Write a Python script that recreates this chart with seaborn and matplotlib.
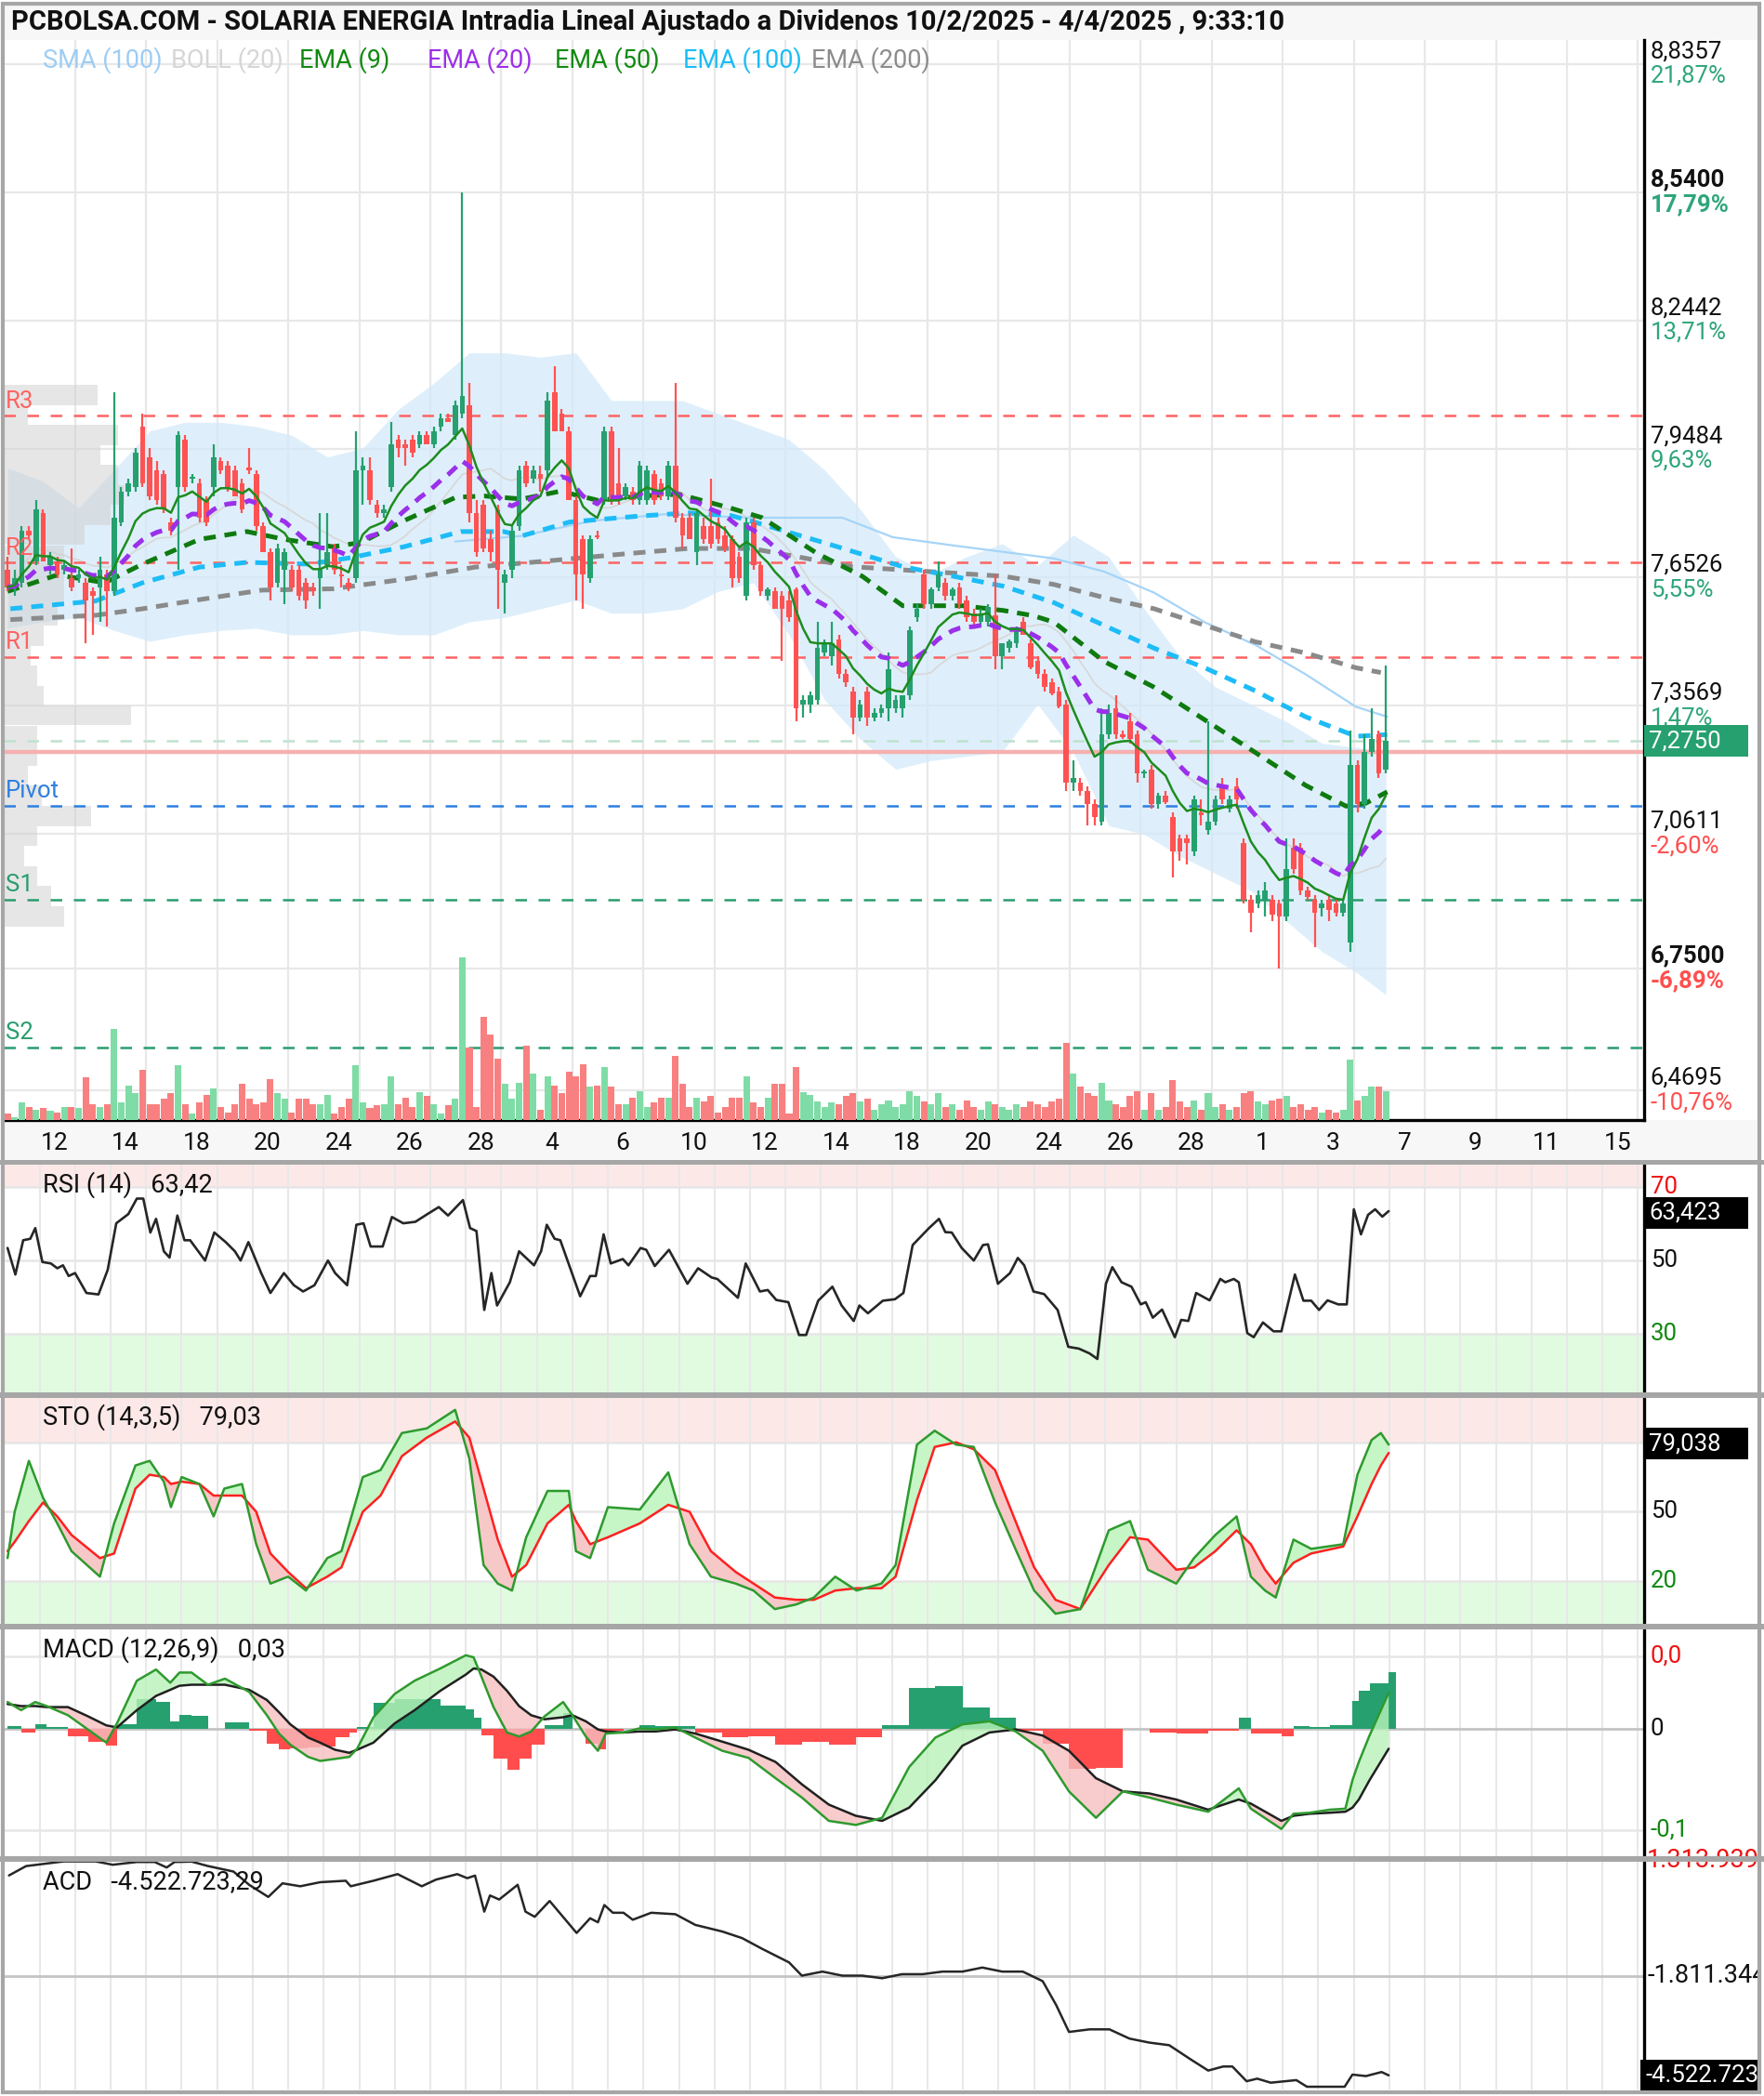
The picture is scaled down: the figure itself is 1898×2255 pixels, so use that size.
import numpy as np
import pandas as pd
import matplotlib
matplotlib.use("Agg")
import matplotlib.pyplot as plt
import matplotlib.transforms as mtransforms
from matplotlib.patches import Rectangle
import seaborn as sns

# ============================ DATA ============================
opens = [7.67,7.63,7.64,7.76,7.69,7.80,7.68,7.69,7.67,7.65,
         7.65,7.64,7.62,7.63,7.66,7.62,7.78,7.85,7.86,8.00,
         7.93,7.90,7.89,7.78,7.86,7.97,7.88,7.87,7.83,7.86,
         7.92,7.91,7.90,7.87,7.905,7.89,7.77,7.71,7.64,7.67,
         7.67,7.67,7.64,7.63,7.65,7.68,7.72,7.66,7.64,7.65,
         7.90,7.90,7.82,7.80,7.86,7.97,7.96,7.97,7.96,7.98,
         7.96,8.00,8.02,7.98,8.03,8.05,7.80,7.82,7.74,7.81,
         7.64,7.67,7.77,7.91,7.88,7.89,7.90,8.08,8.03,7.99,
         7.83,7.74,7.65,7.75,7.83,7.99,7.87,7.84,7.85,7.83,
         7.83,7.89,7.87,7.84,7.91,7.79,7.79,7.71,7.77,7.77,
         7.78,7.75,7.74,7.70,7.61,7.78,7.68,7.61,7.62,7.61,
         7.60,7.625,7.36,7.36,7.37,7.48,7.47,7.51,7.43,7.39,
         7.33,7.39,7.33,7.34,7.35,7.35,7.35,7.38,7.56,7.66,
         7.59,7.63,7.64,7.61,7.63,7.60,7.57,7.55,7.55,7.565,
         7.47,7.49,7.50,7.55,7.50,7.46,7.43,7.41,7.39,7.36,
         7.18,7.18,7.16,7.13,7.09,7.29,7.35,7.29,7.32,7.29,
         7.20,7.21,7.13,7.15,7.10,7.05,7.05,7.02,7.11,7.07,
         7.09,7.17,7.12,7.17,7.04,6.91,6.90,6.91,6.91,6.90,
         6.87,7.03,7.03,6.93,6.91,6.89,6.91,6.90,6.88,6.81,
         7.22,7.13,7.25,7.29,7.21]
highs = [7.70,7.67,7.77,7.77,7.83,7.81,7.71,7.70,7.69,7.72,
         7.67,7.65,7.63,7.70,7.67,8.08,7.86,7.88,7.95,8.03,
         7.95,7.92,7.90,7.79,7.99,7.98,7.89,7.88,7.84,7.96,
         7.93,7.92,7.91,7.88,7.95,7.90,7.78,7.72,7.73,7.72,
         7.68,7.68,7.65,7.64,7.80,7.80,7.73,7.68,7.65,7.99,
         7.93,7.93,7.83,7.82,8.01,7.98,7.97,7.98,7.99,7.99,
         8.00,8.03,8.03,8.06,8.54,8.10,7.83,7.83,7.76,7.82,
         7.67,7.77,7.91,7.92,7.91,7.91,8.08,8.14,8.04,8.00,
         7.84,7.75,7.75,7.76,8.00,8.00,7.95,7.87,7.86,7.92,
         7.91,7.90,7.88,7.92,8.10,7.80,7.80,7.81,7.79,7.88,
         7.79,7.77,7.75,7.71,7.79,7.79,7.69,7.63,7.63,7.62,
         7.62,7.63,7.38,7.39,7.55,7.51,7.55,7.52,7.44,7.40,
         7.37,7.40,7.35,7.36,7.48,7.38,7.38,7.54,7.59,7.67,
         7.63,7.69,7.65,7.63,7.64,7.61,7.58,7.58,7.59,7.66,
         7.50,7.51,7.54,7.56,7.51,7.47,7.44,7.42,7.40,7.37,
         7.23,7.19,7.17,7.14,7.35,7.36,7.38,7.30,7.34,7.30,
         7.21,7.22,7.155,7.16,7.11,7.06,7.06,7.15,7.14,7.32,
         7.15,7.19,7.15,7.19,7.05,6.92,6.93,6.95,6.92,6.91,
         7.05,7.05,7.04,6.94,6.92,6.91,6.92,6.91,6.91,7.30,
         7.23,7.29,7.35,7.30,7.45]
lows = [7.62,7.61,7.63,7.74,7.68,7.69,7.66,7.65,7.66,7.62,
        7.64,7.50,7.52,7.55,7.54,7.61,7.77,7.84,7.85,7.86,
        7.83,7.82,7.80,7.75,7.67,7.85,7.87,7.78,7.77,7.84,
        7.89,7.85,7.84,7.80,7.89,7.76,7.71,7.60,7.63,7.59,
        7.62,7.60,7.58,7.61,7.58,7.67,7.66,7.63,7.62,7.64,
        7.82,7.82,7.79,7.79,7.85,7.93,7.91,7.93,7.95,7.96,
        7.95,7.99,8.01,7.97,8.02,7.78,7.70,7.71,7.69,7.58,
        7.57,7.65,7.76,7.86,7.87,7.85,7.88,7.99,7.99,7.83,
        7.60,7.58,7.64,7.74,7.82,7.82,7.82,7.83,7.82,7.82,
        7.82,7.82,7.83,7.83,7.78,7.72,7.74,7.68,7.73,7.72,
        7.73,7.71,7.63,7.64,7.60,7.67,7.61,7.60,7.58,7.46,
        7.55,7.32,7.33,7.34,7.36,7.47,7.45,7.42,7.40,7.29,
        7.32,7.31,7.32,7.33,7.32,7.34,7.33,7.37,7.55,7.58,
        7.58,7.62,7.60,7.60,7.58,7.55,7.54,7.54,7.54,7.44,
        7.44,7.48,7.49,7.52,7.44,7.42,7.39,7.38,7.35,7.16,
        7.16,7.15,7.08,7.08,7.08,7.28,7.28,7.28,7.27,7.18,
        7.19,7.12,7.12,7.13,6.96,7.00,6.99,7.01,7.08,7.06,
        7.08,7.13,7.11,7.12,6.90,6.835,6.89,6.87,6.86,6.75,
        6.86,6.97,6.92,6.91,6.80,6.87,6.86,6.87,6.87,6.79,
        7.11,7.12,7.24,7.19,7.20]
closes = [7.63,7.65,7.76,7.75,7.81,7.69,7.70,7.66,7.68,7.63,
          7.66,7.60,7.61,7.67,7.62,7.79,7.85,7.87,7.94,7.87,
          7.84,7.83,7.81,7.76,7.98,7.86,7.885,7.79,7.78,7.93,
          7.90,7.86,7.84,7.81,7.90,7.77,7.71,7.63,7.72,7.71,
          7.63,7.61,7.60,7.62,7.67,7.71,7.67,7.655,7.63,7.90,
          7.91,7.83,7.80,7.81,7.96,7.95,7.95,7.94,7.98,7.96,
          7.99,8.02,8.01,8.05,8.07,7.80,7.71,7.72,7.71,7.67,
          7.66,7.76,7.90,7.87,7.90,7.88,8.06,7.99,7.99,7.83,
          7.66,7.66,7.74,7.745,7.99,7.83,7.83,7.86,7.83,7.91,
          7.90,7.83,7.84,7.91,7.79,7.75,7.74,7.80,7.74,7.73,
          7.74,7.72,7.65,7.65,7.78,7.68,7.62,7.625,7.58,7.58,
          7.56,7.35,7.37,7.38,7.49,7.50,7.50,7.43,7.41,7.33,
          7.36,7.33,7.34,7.35,7.44,7.37,7.38,7.53,7.58,7.59,
          7.625,7.66,7.61,7.625,7.59,7.56,7.55,7.57,7.585,7.47,
          7.50,7.505,7.535,7.52,7.445,7.43,7.40,7.385,7.355,7.18,
          7.19,7.16,7.13,7.10,7.29,7.34,7.29,7.285,7.28,7.20,
          7.205,7.13,7.15,7.135,7.02,7.02,7.04,7.14,7.105,7.09,
          7.14,7.14,7.14,7.14,6.91,6.88,6.92,6.93,6.875,6.87,
          6.98,6.98,6.93,6.915,6.88,6.90,6.885,6.88,6.90,7.22,
          7.13,7.25,7.28,7.20,7.275]
volumes = [5,2,13,10,8,9,7,6,10,10, 9,32,12,10,12,68,13,26,20,38,
           12,12,16,20,41,12,5,13,19,24, 10,6,12,27,16,12,13,31,20,16,
           6,16,16,12,12,19,5,10,16,41, 13,9,11,12,33,12,17,10,21,18,
           12,5,11,16,122,54,10,77,64,46, 27,16,28,56,35,8,33,26,20,36,
           33,42,25,26,40,25,12,12,17,22, 10,13,17,17,48,27,10,17,14,18,
           6,10,17,17,33,13,10,17,27,27, 5,40,21,19,14,10,13,
           12,18,20,14,16,8,12,15,10,12, 22,18,14,12,20,10,12,8,15,10,
           8,14,12,10,8,12,10,14,12,10, 14,16,58,35,25,20,18,28,15,12,
           10,18,22,8,20,8,10,30,14,10, 15,8,20,10,12,8,10,20,22,14,
           12,15,16,18,10,12,8,10,6,8, 6,8,45,15,18,25,25,22]

date_labels = ['12','14','18','20','24','26','28','4','6','10','12','14',
               '18','20','24','26','28','1','3','7','9','11','15']
price_ticks = [8.8357, 8.5400, 8.2442, 7.9484, 7.6526, 7.3569, 7.0611, 6.7500, 6.4695]
price_tick_labels = ['8,8357','8,5400','8,2442','7,9484','7,6526','7,3569','7,0611','6,7500','6,4695']
pct_labels = ['21,87%','17,79%','13,71%','9,63%','5,55%','1,47%','-2,60%','-6,89%','-10,76%']
bold_ticks = ['8,5400', '6,7500']

pivot_names = ['R3', 'R2', 'R1', 'Pivot', 'S1', 'S2']
pivot_levels = [8.025, 7.686, 7.468, 7.126, 6.910, 6.568]
last_price = 7.275
ref_price = 7.25

profile_prices = [8.073,8.027,7.981,7.934,7.888,7.842,7.796,7.750,7.703,7.657,7.611,7.565,7.518,
                  7.472,7.426,7.380,7.334,7.287,7.241,7.195,7.149,7.102,7.056,7.010,6.964,6.918,6.871]
profile_volume = [70,18,85,72,85,90,80,60,45,45,45,40,30,20,25,30,95,25,25,18,28,65,25,15,25,35,45]

boll_bar = [0,5,10,15,20,25,30,35,40,45,50,55,60,65,70,75,80,85,90,95,
            100,105,110,115,120,125,130,135,140,145,150,155,160,165,170,175,180,185,190,194]
boll_up = [7.905,7.874,7.813,7.90,7.99,8.01,8.01,8.00,7.98,7.93,7.95,8.04,8.10,8.17,8.17,8.16,8.17,8.06,8.06,8.06,
           8.03,8.00,7.97,7.90,7.81,7.70,7.66,7.70,7.73,7.68,7.75,7.70,7.58,7.47,7.40,7.36,7.32,7.27,7.26,7.25]
boll_lo = [7.535,7.55,7.56,7.53,7.505,7.52,7.53,7.535,7.52,7.52,7.53,7.52,7.52,7.55,7.56,7.58,7.60,7.57,7.57,7.58,
           7.62,7.64,7.52,7.37,7.28,7.21,7.23,7.24,7.25,7.36,7.25,7.08,7.06,7.01,6.97,6.93,6.86,6.79,6.74,6.69]

ema50_bar = [0,7,13.7,19,27,33.7,39,45.8,49.8,55.8,63.1,67.1,72.4,77.8,83.1,89.1,94.5,101.8,106.2,114,
             120.3,126,130.2,134.5,140.2,144.4,147.3,154.3,161.4,168.5,175.6,182.7,188.4,191.2,194.2]
ema50_val = [7.62,7.658,7.64,7.683,7.74,7.758,7.74,7.723,7.733,7.783,7.837,7.84,7.833,7.851,7.83,7.84,7.844,7.812,7.79,7.707,
             7.655,7.587,7.587,7.587,7.576,7.564,7.549,7.459,7.399,7.324,7.249,7.173,7.125,7.132,7.158]
ema100_bar = [0.4,12.4,19,27,33.7,42.4,48.4,55.8,63.8,69.8,72.4,79.1,89.1,95.8,101.8,104.7,115.4,126,133.1,140.2,
              147.3,154.3,161.4,168.5,175.6,182.7,189.8,194.2]
ema100_val = [7.58,7.598,7.64,7.676,7.687,7.683,7.698,7.723,7.758,7.758,7.748,7.78,7.794,7.801,7.795,7.782,7.73,7.677,7.655,7.632,
              7.594,7.542,7.489,7.444,7.391,7.331,7.286,7.29]
ema200_bar = [0.4,12.4,19,27,35.8,45.8,55.8,65.8,75.8,85.8,95.8,104.7,118.9,129.5,140.2,147.3,154.3,161.4,168.5,175.6,
              182.7,189.8,193.3]
ema200_val = [7.555,7.565,7.58,7.601,7.623,7.626,7.648,7.676,7.69,7.705,7.719,7.719,7.677,7.666,7.655,7.636,7.606,7.58,7.542,7.504,
              7.478,7.444,7.433]
sma100_bar = [63,72.4,82.4,92.5,104.7,117.5,124.6,133.1,147.3,154.3,161.4,168.5,175.6,182.7,189.8,194.2]
sma100_val = [7.735,7.748,7.783,7.798,7.79,7.79,7.745,7.726,7.696,7.666,7.617,7.549,7.497,7.429,7.354,7.331]

rsi_bar = [0,1.1,2.2,3.2,3.9,4.9,6.1,7.0,7.8,8.6,9.5,11.1,12.8,14.1,15.3,17.0,18.2,19.1,20.1,20.9,
           22.0,22.8,23.9,24.9,25.7,27.8,29.1,30.7,32.0,32.8,33.9,35.7,37.0,38.9,40.3,41.6,43.2,45.1,46.1,47.8,
           49.1,50.1,51.1,52.8,54.1,55.7,57.4,59.1,60.7,62.0,64.1,65.1,66.0,67.1,68.1,68.9,70.7,72.0,74.1,75.1,
           75.9,77.0,77.8,80.6,82.0,82.8,83.9,84.9,86.6,87.4,89.1,89.9,91.1,93.1,95.7,97.2,99.1,99.9,102.8,103.9,
           105.9,107.0,108.2,109.9,111.4,112.4,114.1,116.1,117.4,119.1,119.9,121.1,123.2,124.9,126.1,127.4,129.7,131.1,132.0,132.9,
           134.3,136.0,137.3,138.0,139.4,141.1,142.2,143.1,144.4,145.9,147.8,149.3,150.8,152.3,153.4,154.6,155.5,156.8,158.2,159.5,
           160.2,161.2,162.5,164.3,165.2,166.2,167.3,169.2,170.7,171.4,172.6,173.3,174.5,175.4,176.7,178.2,179.3,181.2,182.4,183.5,
           184.6,185.8,187.3,188.5,189.5,190.5,191.5,192.5,193.5,194.4]
rsi_val = [53.4,46.2,55.5,55.9,58.8,49.6,49.2,47.9,48.7,45.8,46.6,41.2,40.8,47.5,60.1,62.6,66.8,66.8,57.6,61.3,
           52.5,50.8,62.2,55.5,55.5,50.0,57.6,55.0,52.5,50.0,55.0,46.6,41.2,46.6,43.3,41.6,43.3,50.0,46.6,43.3,
           59.7,60.1,53.8,53.8,61.8,60.1,60.5,62.6,64.5,62.2,66.4,58.8,58.0,36.6,46.6,37.8,44.1,52.5,48.7,52.5,
           59.7,55.9,55.5,40.3,45.8,45.8,57.1,49.2,50.4,48.7,53.4,52.9,48.5,52.9,43.7,47.9,45.4,45.0,39.9,49.2,
           41.6,42.0,39.3,38.7,29.8,29.8,39.1,42.9,37.8,33.6,37.8,35.7,39.1,39.5,41.2,54.2,58.8,61.3,57.7,57.6,
           53.4,50.0,54.2,54.4,43.7,46.6,50.7,48.7,41.6,40.9,36.6,26.6,26.1,24.8,23.3,43.7,48.2,44.1,42.9,38.1,
           38.7,34.5,36.7,29.2,33.9,33.6,41.2,39.2,45.0,44.1,45.0,44.1,30.3,29.2,33.2,30.8,30.8,46.2,39.1,39.1,
           36.6,39.2,38.1,38.1,63.9,57.1,62.4,63.9,61.9,63.4]

sto_bar = [0,1,3,5,7,9,13,15,18,20,22,23,24.5,27,29,30.5,33,35,37,39.5,42,45,47,50,52.5,55.5,59,63,65,67,
           69,71,73,76,79,80,82,84.5,89,93,96,99,102.5,105,108,111,113.5,116.5,119.5,123,125,128,130.5,133.5,136,
           139,142,144.5,147.5,151,155,158,160.5,164.5,167,170,173,175,177,178.5,181,183.5,188,190,192,193.3,194.4]
sto_k = [30,50,72,56,45,33,22,45,70,72,63,52,65,62,48,60,62,36,19,22,16,30,33,65,68,84,86,94,73,27,
         19,16,39,59,59,33,30,52,51,67,36,22,19,16,8,10,13,22,16,19,27,79,85,79,78,
         54,33,16,6,8,42,46,25,19,30,40,48,22,16,13,38,34,36,66,81,84,79]
sto_d = [33,37,46,54,48,40,30,32,60,66,65,62,63,62,57,57,57,50,32,24,17,22,26,50,57,74,82,89,82,60,
         38,22,27,45,53,46,36,39,45,53,50,33,24,19,13,12,12,16,17,17,22,55,78,80,77,
         68,45,26,12,8,27,39,38,25,26,33,42,36,25,19,28,32,35,48,62,70,75.4]

macd_bar = [0,1.9,3.9,5.5,8.5,11.3,13.9,15.4,18.2,20.9,22.9,24.2,25.9,28.2,30.6,34.0,36.5,38.2,39.8,42.3,
            44.0,46.1,48.1,49.2,51.5,54.5,57.3,60.9,64.5,65.6,66.7,68.4,70.3,72.0,73.7,75.6,78.2,79.5,81.4,83.1,
            84.2,86.7,88.9,91.2,94.0,96.8,100.6,104.3,108.1,111.8,115.6,119.4,123.1,126.9,130.6,134.4,138.2,141.9,145.7,149.4,
            153.2,157.0,160.7,164.5,169.0,173.3,175.0,179.3,181.0,183.3,186.1,188.3,189.3,190.2,191.7,194.4]
macd_val = [0.026,0.018,0.026,0.022,0.013,-0.001,-0.014,0.005,0.047,0.058,0.045,0.055,0.055,0.043,0.049,0.036,0.013,-0.005,-0.016,-0.028,
            -0.032,-0.030,-0.028,-0.020,0.011,0.034,0.047,0.059,0.072,0.070,0.051,0.021,-0.004,-0.008,-0.003,0.012,0.026,0.013,-0.008,-0.022,
            -0.005,-0.004,0.000,-0.001,0.001,-0.009,-0.022,-0.029,-0.049,-0.068,-0.091,-0.095,-0.088,-0.038,-0.009,0.004,0.007,-0.003,-0.022,-0.062,
            -0.088,-0.062,-0.068,-0.075,-0.082,-0.059,-0.079,-0.099,-0.084,-0.083,-0.080,-0.079,-0.051,-0.033,-0.007,0.035]
macd_sig = [0.024,0.022,0.022,0.021,0.021,0.012,0.003,0.001,0.018,0.032,0.038,0.042,0.043,0.043,0.043,0.038,0.028,0.016,0.004,-0.009,
            -0.014,-0.021,-0.024,-0.021,-0.014,0.005,0.018,0.037,0.053,0.059,0.058,0.051,0.037,0.022,0.013,0.009,0.011,0.013,0.007,-0.001,
            -0.003,-0.004,-0.003,-0.003,-0.001,-0.005,-0.013,-0.021,-0.033,-0.055,-0.075,-0.086,-0.091,-0.078,-0.051,-0.017,-0.004,-0.001,-0.007,-0.022,
            -0.049,-0.062,-0.064,-0.070,-0.080,-0.070,-0.074,-0.091,-0.086,-0.084,-0.083,-0.082,-0.078,-0.070,-0.051,-0.020]

acd_bar = [0.2,2.6,7.9,12.4,14.8,18.2,20.7,22.4,23.5,25.9,28.2,31.8,34.0,36.7,38.7,41.2,44.0,47.6,48.3,51.5,
           54.9,58.3,60.3,63.3,64.7,65.8,67.1,67.9,69.2,71.8,72.9,74.2,76.3,80.1,82.0,83.1,84.0,85.2,86.7,88.0,
           90.6,94.0,96.8,100.6,103.4,106.2,110.0,111.8,114.7,117.5,120.3,123.1,125.9,128.8,131.6,134.4,137.2,140.0,142.9,145.7,
           147.6,149.4,152.3,155.1,157.9,160.7,163.5,166.4,169.0,171.1,172.4,174.4,175.9,177.8,181.4,182.9,188.2,189.3,191.2,193.4,194.4]
acd_mill = [0.914,1.168,1.296,1.296,1.205,1.28,1.28,1.13,1.28,1.29,1.17,1.02,0.66,0.33,0.70,0.62,0.73,0.77,0.62,0.77,
            0.95,0.62,0.80,0.95,0.84,0.91,-0.07,0.37,0.26,0.66,-0.07,-0.21,0.22,-0.65,-0.25,-0.36,0.11,-0.10,-0.10,-0.29,
            -0.10,-0.14,-0.43,-0.61,-0.79,-1.08,-1.45,-1.81,-1.70,-1.81,-1.81,-1.88,-1.77,-1.77,-1.70,-1.70,-1.59,-1.70,-1.70,-1.96,
            -2.61,-3.34,-3.27,-3.27,-3.52,-3.63,-3.70,-4.07,-4.39,-4.28,-4.28,-4.68,-4.61,-4.72,-4.65,-4.83,-4.83,-4.50,-4.54,-4.43,-4.52]

# ============================ STYLE ============================
sns.set_theme(style="white")
plt.rcParams['font.family'] = ['Roboto', 'DejaVu Sans']

GREEN = '#26a06f'
RED = '#ff5252'
FS = 18.5

FW, FH = 1320.0, 1568.0
def fx(x):
    return x / FW
def fy(y):
    return 1.0 - y / FH

fig = plt.figure(figsize=(18.98, 22.55), dpi=100)
fig.patch.set_facecolor('white')

XL = (-0.5, 230.3)
PL, PR = 3, 1230
BOX_X1 = 1.0 + 78.0 / (PR - PL)

def panel(top, bottom, z=1, face='white'):
    a = fig.add_axes([fx(PL), fy(bottom), fx(PR) - fx(PL), fy(top) - fy(bottom)], zorder=z)
    a.set_xlim(*XL)
    a.set_xticks([]); a.set_yticks([])
    a.set_facecolor(face)
    for s in a.spines.values():
        s.set_visible(False)
    return a

def blend(a):
    return mtransforms.blended_transform_factory(a.transAxes, a.transData)

def value_box(a, yval, half, text, fc, x0=1.0, x1=BOX_X1):
    t = blend(a)
    a.add_patch(Rectangle((x0, yval - half), x1 - x0, 2 * half, transform=t, facecolor=fc,
                          edgecolor='none', clip_on=False, zorder=10))
    a.text(x0 + 0.003, yval, text, transform=t, ha='left', va='center', fontsize=FS, color='white',
           clip_on=False, zorder=11)

# background bars (title bar, date bar)
fig.add_artist(Rectangle((fx(3), fy(30)), fx(1316) - fx(3), fy(3) - fy(30), transform=fig.transFigure,
                         facecolor='#f7f7f7', edgecolor='none', zorder=-5))
fig.add_artist(Rectangle((fx(3), fy(868)), fx(1316) - fx(3), fy(838) - fy(868), transform=fig.transFigure,
                         facecolor='#f7f7f7', edgecolor='none', zorder=-5))

n = len(closes)
bars = np.arange(n)
o = np.array(opens); h = np.array(highs); l = np.array(lows); c = np.array(closes)
up = c >= o

# ---------------- MAIN PANEL ----------------
YL = (6.401, 8.891)
ax_bg = panel(30, 838, z=0)
ax_bg.set_ylim(*YL)
ax_prof = panel(30, 838, z=0.5, face='none')
ax_prof.set_ylim(*YL); ax_prof.set_xlim(0, PR - PL)
ax = panel(30, 838, z=1, face='none')
ax.set_ylim(*YL)
ax_vol = panel(30, 838, z=2, face='none')
ax_vol.set_ylim(0, max(volumes) / 0.151)

# grid
for gx in np.arange(9.5, 231, 10):
    ax_bg.axvline(gx, color='#e8e8e8', lw=1.6, zorder=0)
for gy in price_ticks:
    ax_bg.axhline(gy, color='#e8e8e8', lw=1.6, zorder=0)

# bollinger band (under the volume profile)
ax_bg.fill_between(boll_bar, boll_up, boll_lo, color='#d3eafa', alpha=0.75, lw=0, zorder=1)
boll_mid = pd.Series(closes).rolling(20, min_periods=1).mean()
ax_bg.plot(bars, boll_mid, color='#d8d8d8', lw=1.3, zorder=2)

# volume profile
ax_prof.barh(profile_prices, profile_volume, height=0.046, left=0, color='#cfcfcf', alpha=0.5,
             edgecolor='none', zorder=1)

# pivots
piv_colors = ['#ff6262', '#ff6262', '#ff6262', '#2d7fe0', '#2a9d6f', '#2a9d6f']
for name, lev, col in zip(pivot_names, pivot_levels, piv_colors):
    ax.axhline(lev, color=col, lw=1.8, ls=(0, (5, 5)), zorder=2)
    ax.text(-0.3, lev + 0.008, name, color=col, fontsize=FS, va='bottom', ha='left', zorder=6)

ax.axhline(ref_price, color='#f6b0b0', lw=3.2, zorder=2)
ax.axhline(last_price, color='#bfe2cf', lw=1.8, ls=(0, (5, 5)), zorder=2)

# long averages
ax.plot(sma100_bar, sma100_val, color='#a6d4f7', lw=1.6, zorder=3)
ax.plot(ema200_bar, ema200_val, color='#8a8a8a', lw=3.6, ls=(0, (2.6, 1.9)), zorder=3)
ax.plot(ema100_bar, ema100_val, color='#1dbcf7', lw=3.6, ls=(0, (2.6, 1.9)), zorder=3)
ax.plot(ema50_bar, ema50_val, color='#0f7a0f', lw=3.6, ls=(0, (2.6, 1.9)), zorder=3)

# candles
ax.vlines(bars, l, h, colors=np.where(up, GREEN, RED), lw=1.6, zorder=4)
body_lo = np.minimum(o, c)
body_h = np.maximum(np.abs(c - o), 0.004)
ax.bar(bars, body_h, bottom=body_lo, width=0.74, color=np.where(up, GREEN, RED), edgecolor='none', zorder=4)

# short EMAs (computed from the closes)
ema9 = pd.Series(closes).ewm(span=9, adjust=False).mean()
ema20 = pd.Series(closes).ewm(span=20, adjust=False).mean()
ax.plot(bars, ema20, color='#9b30ea', lw=3.6, ls=(0, (2.6, 1.9)), zorder=5)
sns.lineplot(x=bars, y=ema9, ax=ax, color='#1e8c1e', linewidth=1.8, zorder=5)
ax.set_xlim(*XL); ax.set_ylim(*YL)
ax.set_xlabel(''); ax.set_ylabel('')

# volume
ax_vol.bar(bars, volumes, width=0.92, color=np.where(up, '#7fdca6', '#f88080'), edgecolor='none', zorder=1)

# spines of main
ax.spines['right'].set_visible(True); ax.spines['right'].set_color('black'); ax.spines['right'].set_linewidth(2.4)
ax.spines['bottom'].set_visible(True); ax.spines['bottom'].set_color('black'); ax.spines['bottom'].set_linewidth(2.4)

# right price labels
tb = blend(ax)
for val, lab, pct in zip(price_ticks, price_tick_labels, pct_labels):
    wt = 'bold' if lab in bold_ticks else 'normal'
    pcol = '#2fa57a' if not pct.startswith('-') else '#ff4f4f'
    ax.text(1.004, val + 0.004, lab, transform=tb, ha='left', va='bottom', fontsize=FS, color='#111111',
            weight=wt, clip_on=False)
    ax.text(1.004, val - 0.002, pct, transform=tb, ha='left', va='top', fontsize=FS, color=pcol,
            weight=wt, clip_on=False)
value_box(ax, last_price, 0.036, '7,2750', GREEN)

# date labels
for k, lab in enumerate(date_labels):
    ax.text(6.6 + 10 * k, -(855 - 838) / 808.0, lab,
            transform=mtransforms.blended_transform_factory(ax.transData, ax.transAxes),
            ha='center', va='center', fontsize=19, color='#111111', clip_on=False)

# title and legend
fig.text(fx(8), fy(17), 'PCBOLSA.COM - SOLARIA ENERGIA Intradia Lineal Ajustado a Dividenos 10/2/2025 - 4/4/2025 , 9:33:10',
         fontsize=21, weight='bold', va='center', ha='left', color='#111111')
legend_items = [('SMA (100)', '#9dcdf5', 32), ('BOLL (20)', '#d6d6d6', 128), ('EMA (9)', '#118a11', 224),
                ('EMA (20)', '#9b30e8', 320), ('EMA (50)', '#118a11', 415), ('EMA (100)', '#19bdf5', 511),
                ('EMA (200)', '#8c8c8c', 607)]
for txt, col, xpos in legend_items:
    fig.text(fx(xpos), fy(45), txt, color=col, fontsize=19.5, va='center', ha='left')

# ---------------- RSI ----------------
ax_rsi = panel(871, 1042)
ax_rsi.set_ylim(14.1, 76.1)
ax_rsi.axhspan(70, 80, color='#fde8e8', lw=0, zorder=0)
ax_rsi.axhspan(10, 30, color='#e1fbe1', lw=0, zorder=0)
for gx in np.arange(4.5, 231, 5):
    ax_rsi.axvline(gx, color='#e8e8e8', lw=1.5, zorder=0.5)
for gy in [70, 50, 30]:
    ax_rsi.axhline(gy, color='#e6e6e6', lw=1.8, zorder=0.5)
sns.lineplot(x=rsi_bar, y=rsi_val, ax=ax_rsi, color='#262626', linewidth=1.9, zorder=3)
ax_rsi.set_xlim(*XL); ax_rsi.set_ylim(14.1, 76.1)
ax_rsi.set_xlabel(''); ax_rsi.set_ylabel('')
tr = blend(ax_rsi)
ax_rsi.text(1.004, 70, '70', transform=tr, color='#ee1111', fontsize=FS, va='center', clip_on=False)
ax_rsi.text(1.004, 50, '50', transform=tr, color='#111111', fontsize=FS, va='center', clip_on=False)
ax_rsi.text(1.004, 30, '30', transform=tr, color='#118811', fontsize=FS, va='center', clip_on=False)
value_box(ax_rsi, 63.0, 4.3, '63,423', 'black')
fig.text(fx(32), fy(886), 'RSI (14)   63,42', fontsize=19.5, va='center', color='#111111')

# ---------------- STO ----------------
ax_sto = panel(1045, 1215)
ax_sto.set_ylim(1.5, 99.6)
ax_sto.axhspan(80, 100, color='#fde8e8', lw=0, zorder=0)
ax_sto.axhspan(0, 20, color='#e1fbe1', lw=0, zorder=0)
for gx in np.arange(4.5, 231, 5):
    ax_sto.axvline(gx, color='#e8e8e8', lw=1.5, zorder=0.5)
for gy in [80, 50, 20]:
    ax_sto.axhline(gy, color='#e6e6e6', lw=1.8, zorder=0.5)
kk = np.array(sto_k, float); dd = np.array(sto_d, float); sb = np.array(sto_bar, float)
ax_sto.fill_between(sb, kk, dd, where=kk >= dd, interpolate=True, color='#c6f5c6', lw=0, zorder=1)
ax_sto.fill_between(sb, kk, dd, where=kk < dd, interpolate=True, color='#f7c8c8', lw=0, zorder=1)
sns.lineplot(x=sto_bar, y=sto_d, ax=ax_sto, color='#ff2020', linewidth=1.8, zorder=3)
sns.lineplot(x=sto_bar, y=sto_k, ax=ax_sto, color='#2e9a2e', linewidth=1.8, zorder=4)
ax_sto.set_xlim(*XL); ax_sto.set_ylim(1.5, 99.6)
ax_sto.set_xlabel(''); ax_sto.set_ylabel('')
ts = blend(ax_sto)
ax_sto.text(1.004, 50, '50', transform=ts, color='#111111', fontsize=FS, va='center', clip_on=False)
ax_sto.text(1.004, 20, '20', transform=ts, color='#118811', fontsize=FS, va='center', clip_on=False)
value_box(ax_sto, 79.4, 6.9, '79,038', 'black')
fig.text(fx(32), fy(1060), 'STO (14,3,5)   79,03', fontsize=19.5, va='center', color='#111111')

# ---------------- MACD ----------------
MY = (-0.1263, 0.0974)
ax_m = panel(1219, 1389)
ax_m.set_ylim(*MY)
for gx in np.arange(4.5, 231, 5):
    ax_m.axvline(gx, color='#e8e8e8', lw=1.5, zorder=0.5)
ax_m.axhline(0.0714, color='#e6e6e6', lw=1.8, zorder=0.5)
ax_m.axhline(-0.1, color='#e6e6e6', lw=1.8, zorder=0.5)
ax_m.axhline(0, color='#c4c4c4', lw=2.0, zorder=0.6)
mb = np.array(macd_bar, float); mv = np.array(macd_val); ms = np.array(macd_sig)
hist = mv - ms
widths = np.append(np.diff(mb), 1.0)
ax_m.bar(mb, hist, width=widths, align='edge', color=np.where(hist >= 0, GREEN, '#ff4d4d'), edgecolor='none', zorder=1)
ax_m.fill_between(mb, mv, ms, where=mv >= ms, interpolate=True, color='#b9f2b9', alpha=0.8, lw=0, zorder=2)
ax_m.fill_between(mb, mv, ms, where=mv < ms, interpolate=True, color='#f7c0c0', alpha=0.8, lw=0, zorder=2)
sns.lineplot(x=macd_bar, y=macd_sig, ax=ax_m, color='#202020', linewidth=1.8, zorder=3)
sns.lineplot(x=macd_bar, y=macd_val, ax=ax_m, color='#2e9a2e', linewidth=1.8, zorder=4)
ax_m.set_xlim(*XL); ax_m.set_ylim(*MY)
ax_m.set_xlabel(''); ax_m.set_ylabel('')
tm = blend(ax_m)
ax_m.text(1.004, 0.0714, '0,0', transform=tm, color='#ee1111', fontsize=FS, va='center', clip_on=False)
ax_m.text(1.004, 0.0, '0', transform=tm, color='#111111', fontsize=FS, va='center', clip_on=False)
ax_m.text(1.004, -0.1, '-0,1', transform=tm, color='#118811', fontsize=FS, va='center', clip_on=False)
fig.text(fx(32), fy(1234), 'MACD (12,26,9)   0,03', fontsize=19.5, va='center', color='#111111')

# ---------------- ACD ----------------
AY = (-4.900, 1.3139)
ax_a = panel(1392, 1563)
ax_a.set_ylim(*AY)
for gx in np.arange(4.5, 231, 5):
    ax_a.axvline(gx, color='#e8e8e8', lw=1.5, zorder=0.5)
ax_a.axhline(-1.811344, color='#c4c4c4', lw=2.0, zorder=0.6)
sns.lineplot(x=acd_bar, y=acd_mill, ax=ax_a, color='#262626', linewidth=1.8, zorder=3)
ax_a.set_xlim(*XL); ax_a.set_ylim(*AY)
ax_a.set_xlabel(''); ax_a.set_ylabel('')
ta = blend(ax_a)
ax_a.text(1.002, 1.3139, '1.313.939', transform=ta, color='#ee1111', fontsize=19.5, va='center', clip_on=False)
ax_a.text(1.002, -1.811344, '-1.811.344', transform=ta, color='#111111', fontsize=19.5, va='center', clip_on=False)
value_box(ax_a, -4.522723, 0.43, '-4.522.723', 'black', x0=0.998, x1=1.08)
fig.text(fx(32), fy(1408), 'ACD   -4.522.723,29', fontsize=19.5, va='center', color='#111111')

for a in (ax_rsi, ax_sto, ax_m, ax_a):
    a.spines['right'].set_visible(True)
    a.spines['right'].set_color('black')
    a.spines['right'].set_linewidth(2.4)

# separators and frame
for ys in (869.5, 1043.5, 1217.0, 1390.5):
    fig.add_artist(Rectangle((0, fy(ys + 2.0)), 1.0, fy(ys - 2.0) - fy(ys + 2.0), transform=fig.transFigure,
                             facecolor='#a6a6a6', edgecolor='none', zorder=20))
fig.add_artist(Rectangle((fx(1316.5), 0), 1 - fx(1316.5), 1, transform=fig.transFigure,
                         facecolor='white', edgecolor='none', zorder=19))
fig.add_artist(Rectangle((fx(2), fy(1565.5)), fx(1316.5) - fx(2), fy(2.5) - fy(1565.5), transform=fig.transFigure,
                         facecolor='none', edgecolor='#a6a6a6', lw=3.0, zorder=21))

fig.savefig('out.png', dpi=100, facecolor='white')
